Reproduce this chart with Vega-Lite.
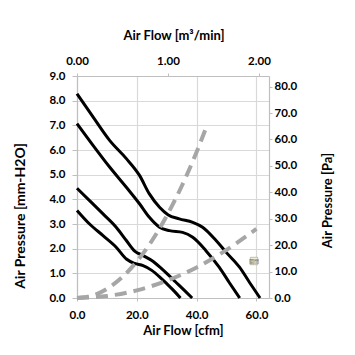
{
  "$schema": "https://vega.github.io/schema/vega-lite/v6.json",
  "width": 192,
  "height": 222,
  "autosize": {"type": "none"},
  "padding": {"left": 77, "top": 76, "right": 86, "bottom": 57},
  "background": "white",
  "config": {
    "view": {"stroke": null},
    "axis": {
      "labelFont": "Lato", "labelFontWeight": "bold", "labelFontSize": 11.5, "labelColor": "#000000", "labelFlush": false,
      "titleFont": "Lato", "titleFontWeight": "bold", "titleFontSize": 13, "titleColor": "#000000",
      "domainColor": "#BFBFBF", "tickColor": "#BFBFBF", "gridColor": "#D9D9D9", "gridWidth": 1.2, "domainWidth": 1.2
    }
  },
  "layer": [
    {
      "data": {
        "values": [
          {"curve": "A", "kind": "fan", "cfm": 0, "mm": 8.28},
          {"curve": "A", "kind": "fan", "cfm": 5.35, "mm": 7.34},
          {"curve": "A", "kind": "fan", "cfm": 10.9, "mm": 6.39},
          {"curve": "A", "kind": "fan", "cfm": 16.5, "mm": 5.65},
          {"curve": "A", "kind": "fan", "cfm": 20.9, "mm": 4.97},
          {"curve": "A", "kind": "fan", "cfm": 24.2, "mm": 4.22},
          {"curve": "A", "kind": "fan", "cfm": 27.6, "mm": 3.68},
          {"curve": "A", "kind": "fan", "cfm": 30.4, "mm": 3.38},
          {"curve": "A", "kind": "fan", "cfm": 34.2, "mm": 3.21},
          {"curve": "A", "kind": "fan", "cfm": 38.7, "mm": 3.07},
          {"curve": "A", "kind": "fan", "cfm": 42.0, "mm": 2.87},
          {"curve": "A", "kind": "fan", "cfm": 46.5, "mm": 2.33},
          {"curve": "A", "kind": "fan", "cfm": 49.9, "mm": 1.85},
          {"curve": "A", "kind": "fan", "cfm": 54.4, "mm": 1.24},
          {"curve": "A", "kind": "fan", "cfm": 57.7, "mm": 0.63},
          {"curve": "A", "kind": "fan", "cfm": 61.2, "mm": 0},
          {"curve": "B", "kind": "fan", "cfm": 0, "mm": 7.07},
          {"curve": "B", "kind": "fan", "cfm": 5.35, "mm": 6.19},
          {"curve": "B", "kind": "fan", "cfm": 10.9, "mm": 5.31},
          {"curve": "B", "kind": "fan", "cfm": 16.5, "mm": 4.49},
          {"curve": "B", "kind": "fan", "cfm": 20.9, "mm": 3.82},
          {"curve": "B", "kind": "fan", "cfm": 24.2, "mm": 3.27},
          {"curve": "B", "kind": "fan", "cfm": 27.6, "mm": 2.87},
          {"curve": "B", "kind": "fan", "cfm": 30.9, "mm": 2.73},
          {"curve": "B", "kind": "fan", "cfm": 35.3, "mm": 2.66},
          {"curve": "B", "kind": "fan", "cfm": 38.7, "mm": 2.46},
          {"curve": "B", "kind": "fan", "cfm": 43.1, "mm": 1.92},
          {"curve": "B", "kind": "fan", "cfm": 47.6, "mm": 1.24},
          {"curve": "B", "kind": "fan", "cfm": 50.9, "mm": 0.63},
          {"curve": "B", "kind": "fan", "cfm": 54.4, "mm": 0},
          {"curve": "C", "kind": "fan", "cfm": 0, "mm": 4.45},
          {"curve": "C", "kind": "fan", "cfm": 4.2, "mm": 3.95},
          {"curve": "C", "kind": "fan", "cfm": 8.7, "mm": 3.41},
          {"curve": "C", "kind": "fan", "cfm": 13.1, "mm": 2.87},
          {"curve": "C", "kind": "fan", "cfm": 16.5, "mm": 2.33},
          {"curve": "C", "kind": "fan", "cfm": 19.3, "mm": 1.9},
          {"curve": "C", "kind": "fan", "cfm": 22.1, "mm": 1.72},
          {"curve": "C", "kind": "fan", "cfm": 25, "mm": 1.52},
          {"curve": "C", "kind": "fan", "cfm": 28, "mm": 1.22},
          {"curve": "C", "kind": "fan", "cfm": 30, "mm": 1.0},
          {"curve": "C", "kind": "fan", "cfm": 33, "mm": 0.65},
          {"curve": "C", "kind": "fan", "cfm": 36, "mm": 0.3},
          {"curve": "C", "kind": "fan", "cfm": 38.5, "mm": 0},
          {"curve": "D", "kind": "fan", "cfm": 0, "mm": 3.55},
          {"curve": "D", "kind": "fan", "cfm": 4.2, "mm": 3.0},
          {"curve": "D", "kind": "fan", "cfm": 8.7, "mm": 2.53},
          {"curve": "D", "kind": "fan", "cfm": 13.1, "mm": 2.06},
          {"curve": "D", "kind": "fan", "cfm": 16.5, "mm": 1.58},
          {"curve": "D", "kind": "fan", "cfm": 19.3, "mm": 1.4},
          {"curve": "D", "kind": "fan", "cfm": 22.1, "mm": 1.31},
          {"curve": "D", "kind": "fan", "cfm": 25, "mm": 1.12},
          {"curve": "D", "kind": "fan", "cfm": 27.6, "mm": 0.86},
          {"curve": "D", "kind": "fan", "cfm": 30, "mm": 0.58},
          {"curve": "D", "kind": "fan", "cfm": 32.5, "mm": 0.28},
          {"curve": "D", "kind": "fan", "cfm": 34.6, "mm": 0},
          {"curve": "S1", "kind": "sys", "cfm": 0, "mm": 0},
          {"curve": "S1", "kind": "sys", "cfm": 5, "mm": 0.09},
          {"curve": "S1", "kind": "sys", "cfm": 10, "mm": 0.37},
          {"curve": "S1", "kind": "sys", "cfm": 15, "mm": 0.83},
          {"curve": "S1", "kind": "sys", "cfm": 20, "mm": 1.48},
          {"curve": "S1", "kind": "sys", "cfm": 25, "mm": 2.31},
          {"curve": "S1", "kind": "sys", "cfm": 30, "mm": 3.33},
          {"curve": "S1", "kind": "sys", "cfm": 35, "mm": 4.53},
          {"curve": "S1", "kind": "sys", "cfm": 40, "mm": 5.92},
          {"curve": "S1", "kind": "sys", "cfm": 43.7, "mm": 7.07},
          {"curve": "S2", "kind": "sys", "cfm": 0, "mm": 0},
          {"curve": "S2", "kind": "sys", "cfm": 10, "mm": 0.08},
          {"curve": "S2", "kind": "sys", "cfm": 20, "mm": 0.31},
          {"curve": "S2", "kind": "sys", "cfm": 30, "mm": 0.7},
          {"curve": "S2", "kind": "sys", "cfm": 40, "mm": 1.24},
          {"curve": "S2", "kind": "sys", "cfm": 50, "mm": 1.95},
          {"curve": "S2", "kind": "sys", "cfm": 60, "mm": 2.8}
        ]
      },
      "encoding": {
        "x": {
          "field": "cfm", "type": "quantitative",
          "scale": {"domain": [0, 64.2], "nice": false, "zero": false},
          "axis": {
            "values": [0, 20, 40, 60], "format": ".1f", "title": "Air Flow [cfm]",
            "tickSize": 3, "labelPadding": 8, "grid": true,
            "titleX": 106, "titleY": 32, "titleBaseline": "middle"
          }
        },
        "y": {
          "field": "mm", "type": "quantitative",
          "scale": {"domain": [0, 9], "nice": false},
          "axis": {
            "values": [0, 1, 2, 3, 4, 5, 6, 7, 8, 9], "format": ".1f", "title": "Air Pressure [mm-H2O]",
            "tickSize": 5, "labelPadding": 7, "grid": true, "titleFontSize": 14,
            "titleAngle": 270, "titleX": -57, "titleY": 139.5, "titleBaseline": "middle"
          }
        }
      },
      "layer": [
        {
          "transform": [{"filter": "datum.kind == 'fan'"}],
          "mark": {"type": "line", "color": "#000000", "strokeWidth": 3, "interpolate": "monotone"},
          "encoding": {"detail": {"field": "curve"}}
        },
        {
          "transform": [{"filter": "datum.kind == 'sys'"}],
          "mark": {"type": "line", "color": "#A6A6A6", "strokeWidth": 4, "strokeDash": [12, 7], "interpolate": "monotone"},
          "encoding": {"detail": {"field": "curve"}}
        },
        {
          "data": {"values": [{"cfm": 59.2, "mm": 1.5, "t": "關閉"}]},
          "mark": {"type": "point", "shape": "square", "size": 55, "filled": true, "color": "#EEEED8", "stroke": "#A0A088", "strokeWidth": 0.6, "opacity": 1}
        },
        {
          "data": {"values": [{"cfm": 59.2, "mm": 1.5, "t": "關閉"}]},
          "mark": {"type": "text", "font": "Noto Sans CJK TC", "fontSize": 5, "color": "#6A6A6A"},
          "encoding": {"text": {"field": "t"}}
        }
      ]
    },
    {
      "data": {"values": [{"m3": 0, "pa": 0}, {"m3": 2.11, "pa": 84}]},
      "mark": {"type": "point", "opacity": 0},
      "encoding": {
        "x": {
          "field": "m3", "type": "quantitative",
          "scale": {"domain": [0, 2.11], "nice": false, "zero": false},
          "axis": {
            "orient": "top", "values": [0, 1, 2], "format": ".2f", "title": "Air Flow [m³/min]",
            "tickSize": 3, "labelPadding": 7, "grid": false,
            "titleX": 96.5, "titleY": -41, "titleBaseline": "middle"
          }
        },
        "y": {
          "field": "pa", "type": "quantitative",
          "scale": {"domain": [0, 84], "nice": false},
          "axis": {
            "orient": "right", "values": [0, 10, 20, 30, 40, 50, 60, 70, 80], "format": ".1f", "title": "Air Pressure [Pa]",
            "tickSize": 3, "labelPadding": 2, "grid": false,
            "titleAngle": 270, "titleX": 58.5, "titleY": 124, "titleBaseline": "middle"
          }
        }
      }
    }
  ],
  "resolve": {"scale": {"x": "independent", "y": "independent"}}
}
